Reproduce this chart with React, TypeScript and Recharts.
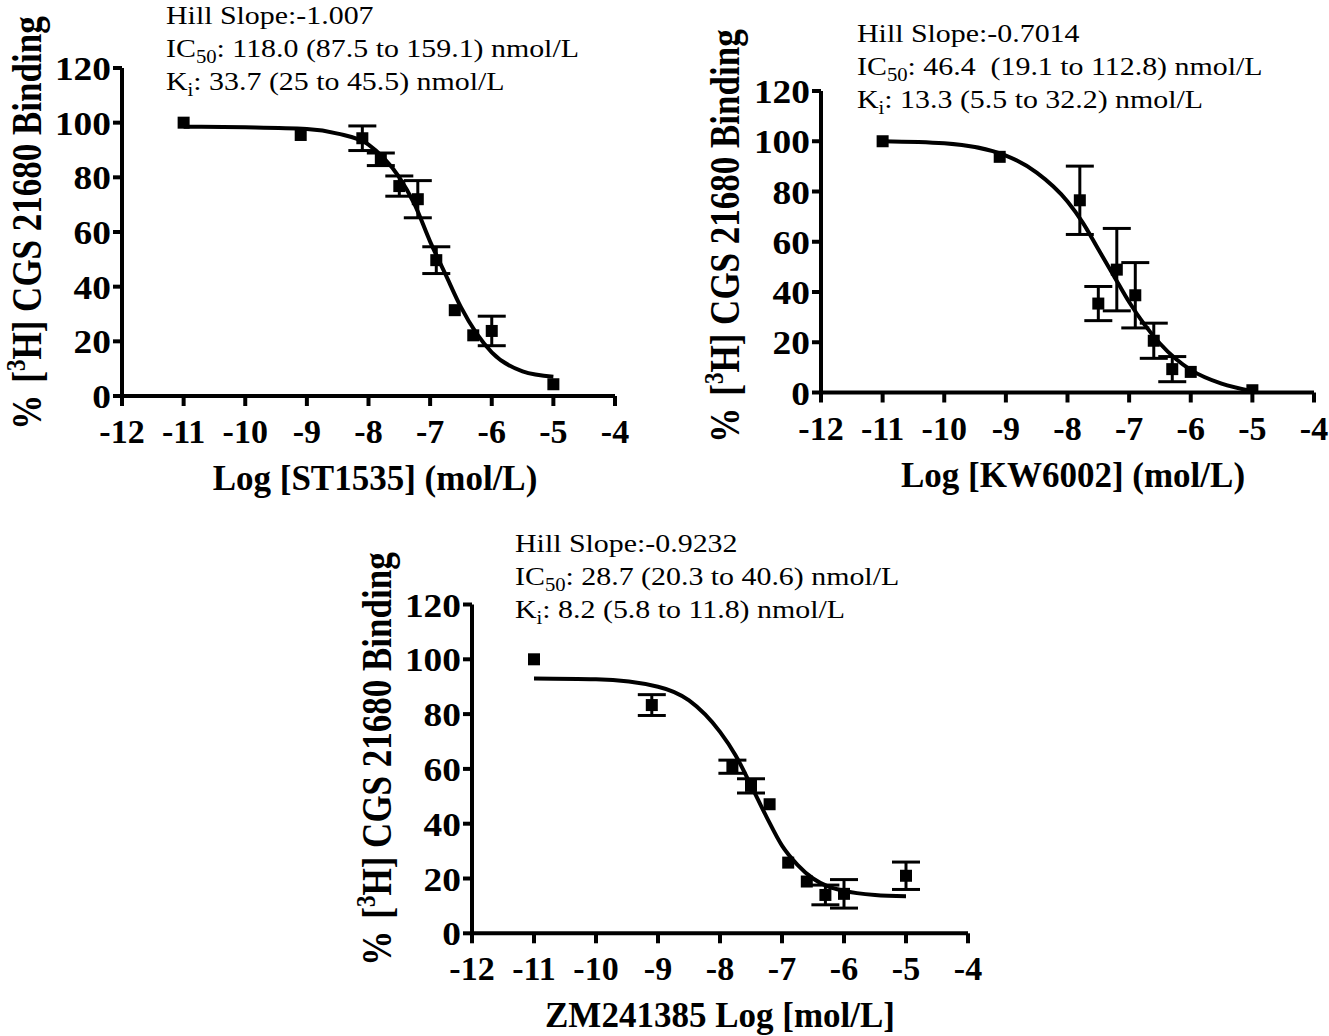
import React from "react";
import { ComposedChart, Line, Scatter, ErrorBar, XAxis, YAxis } from "recharts";

const FONT = '"Liberation Serif", "Times New Roman", serif';

const X_TICKS = [-12, -11, -10, -9, -8, -7, -6, -5, -4];
const Y_TICKS = [0, 20, 40, 60, 80, 100, 120];

const FIT_X = [-11, -10, -9, -8.5, -8, -7.75, -7.5, -7.25, -7, -6.75, -6.5, -6.25, -6, -5.5, -5];

// ST1535
const ST_X = [-11, -9.1, -8.1, -7.8, -7.5, -7.2, -6.9, -6.6, -6.3, -6, -5];
const ST_Y = [100, 95.5, 94.3, 86.6, 76.8, 72, 49.7, 31.4, 22.2, 23.8, 4.3];
const ST_ERR = [0, 0, 4.5, 2.3, 3.7, 6.8, 4.9, 0, 0, 5.4, 0];
const ST_FIT = [98.5, 98.3, 97.7, 96, 92, 87, 80, 70, 56.5, 44.5, 32.5, 23, 16, 9, 7];

// KW6002
const KW_X = [-11, -9.1, -7.8, -7.5, -7.2, -6.9, -6.6, -6.3, -6, -5];
const KW_Y = [100, 93.8, 76.5, 35.4, 48.9, 38.7, 20.6, 9.3, 8.2, 0.9];
const KW_ERR = [0, 0, 13.6, 6.8, 16.4, 13, 7, 5, 0, 0];
const KW_FIT = [100, 99.2, 94.3, 87.5, 76, 67.5, 57, 46.5, 36, 27, 19.5, 13.5, 9, 3.5, 0.5];

// ZM241385
const ZM_X = [-11, -9.1, -7.8, -7.5, -7.2, -6.9, -6.6, -6.3, -6, -5];
const ZM_Y = [100, 83.3, 60.8, 53.8, 47.1, 25.8, 18.9, 14, 14.4, 21];
const ZM_ERR = [0, 3.8, 2.4, 2.6, 0, 0, 0, 3.6, 5.2, 5];
const ZM_FIT = [93, 92.7, 90, 85, 73.5, 65, 54, 42.5, 32, 25, 20, 17, 15.5, 14, 13.5];

const toPoints = (xs: number[], ys: number[], errs: number[]) =>
  xs.map((x, i) => ({ x, y: ys[i], err: errs[i] }));
const toFit = (ys: number[]) => FIT_X.map((x, i) => ({ x, y: ys[i] }));

const axisStyle = { stroke: "#000", strokeWidth: 4 };
const tickStyle = { fill: "#000", fontSize: 34, fontWeight: 700, fontFamily: FONT };

const Square = (props: any) => (
  <rect x={props.cx - 6} y={props.cy - 6} width={12} height={12} fill="#000" />
);

// the original lettering is a little wider than Times, so stretch it sideways
const YTick = (props: any) => (
  <text
    transform={`translate(${props.x} ${props.y}) scale(1.1 1)`}
    textAnchor="end"
    dy={12}
    {...tickStyle}
  >
    {props.payload.value}
  </text>
);

type Notes = { slope: string; ic50: string; ki: string };

function Panel(props: {
  left: number;
  top: number;
  width: number;
  height: number;
  margin: { top: number; right: number; bottom: number; left: number };
  points: { x: number; y: number; err: number }[];
  fit: { x: number; y: number }[];
  notes: Notes;
  notesAt: [number, number];
  xTitle: string;
  xTitleAt: [number, number];
  yTitleAt: [number, number];
}) {
  const { notes, notesAt, xTitleAt, yTitleAt } = props;
  return (
    <div style={{ position: "absolute", left: props.left, top: props.top }}>
      <ComposedChart width={props.width} height={props.height} margin={props.margin}>
        <XAxis
          type="number"
          dataKey="x"
          domain={[-12, -4]}
          ticks={X_TICKS}
          interval={0}
          allowDataOverflow
          height={60}
          tickSize={10}
          tickMargin={13}
          axisLine={axisStyle}
          tickLine={axisStyle}
          tick={tickStyle}
        />
        <YAxis
          type="number"
          dataKey="y"
          domain={[0, 120]}
          ticks={Y_TICKS}
          interval={0}
          allowDataOverflow
          width={72}
          tickSize={9}
          tickMargin={2}
          axisLine={axisStyle}
          tickLine={axisStyle}
          tick={<YTick />}
        />
        <Line
          data={props.fit}
          dataKey="y"
          type="monotone"
          stroke="#000"
          strokeWidth={4}
          dot={false}
          activeDot={false}
          isAnimationActive={false}
        />
        <Scatter data={props.points} dataKey="y" fill="#000" shape={Square} isAnimationActive={false}>
          <ErrorBar dataKey="err" direction="y" width={14} strokeWidth={3} stroke="#000" isAnimationActive={false} />
        </Scatter>
        <g
          transform={`translate(${notesAt[0]} ${notesAt[1]}) scale(1.15 1)`}
          fontFamily={FONT}
          fontSize={26}
          fill="#000"
        >
          <text x={0} y={0} xmlSpace="preserve">Hill Slope:{notes.slope}</text>
          <text x={0} y={33} xmlSpace="preserve">
            IC<tspan dy={6} fontSize={18}>50</tspan>
            <tspan dy={-6}>{": " + notes.ic50}</tspan>
          </text>
          <text x={0} y={66} xmlSpace="preserve">
            K<tspan dy={6} fontSize={18}>i</tspan>
            <tspan dy={-6}>{": " + notes.ki}</tspan>
          </text>
        </g>
        <text
          x={xTitleAt[0]}
          y={xTitleAt[1]}
          textAnchor="middle"
          fontFamily={FONT}
          fontSize={35}
          fontWeight={700}
          fill="#000"
        >
          {props.xTitle}
        </text>
        <text
          transform={`translate(${yTitleAt[0]} ${yTitleAt[1]}) scale(1.2 1) rotate(-90)`}
          textAnchor="middle"
          fontFamily={FONT}
          fontSize={35}
          fontWeight={700}
          fill="#000"
        >
          %<tspan dx={12}>[</tspan>
          <tspan dy={-13} fontSize={23}>3</tspan>
          <tspan dy={13}>H] CGS 21680 Binding</tspan>
        </text>
      </ComposedChart>
    </div>
  );
}

export default function App() {
  return (
    <div style={{ position: "absolute", left: 0, top: 0, width: 1329, height: 1036, background: "#fff" }}>
      <Panel
        left={0}
        top={0}
        width={660}
        height={510}
        margin={{ top: 68, right: 45, bottom: 54, left: 50 }}
        points={toPoints(ST_X, ST_Y, ST_ERR)}
        fit={toFit(ST_FIT)}
        notes={{ slope: "-1.007", ic50: "118.0 (87.5 to 159.1) nmol/L", ki: "33.7 (25 to 45.5) nmol/L" }}
        notesAt={[166, 24]}
        xTitle="Log [ST1535] (mol/L)"
        xTitleAt={[375, 490]}
        yTitleAt={[41, 223]}
      />
      <Panel
        left={690}
        top={0}
        width={639}
        height={510}
        margin={{ top: 91, right: 15, bottom: 57.5, left: 59 }}
        points={toPoints(KW_X, KW_Y, KW_ERR)}
        fit={toFit(KW_FIT)}
        notes={{ slope: "-0.7014", ic50: "46.4  (19.1 to 112.8) nmol/L", ki: "13.3 (5.5 to 32.2) nmol/L" }}
        notesAt={[167, 42]}
        xTitle="Log [KW6002] (mol/L)"
        xTitleAt={[383, 487]}
        yTitleAt={[49, 236]}
      />
      <Panel
        left={340}
        top={510}
        width={660}
        height={526}
        margin={{ top: 94.5, right: 32, bottom: 42.7, left: 60 }}
        points={toPoints(ZM_X, ZM_Y, ZM_ERR)}
        fit={toFit(ZM_FIT)}
        notes={{ slope: "-0.9232", ic50: "28.7 (20.3 to 40.6) nmol/L", ki: "8.2 (5.8 to 11.8) nmol/L" }}
        notesAt={[175, 42]}
        xTitle="ZM241385 Log [mol/L]"
        xTitleAt={[380, 517]}
        yTitleAt={[51, 249]}
      />
    </div>
  );
}
